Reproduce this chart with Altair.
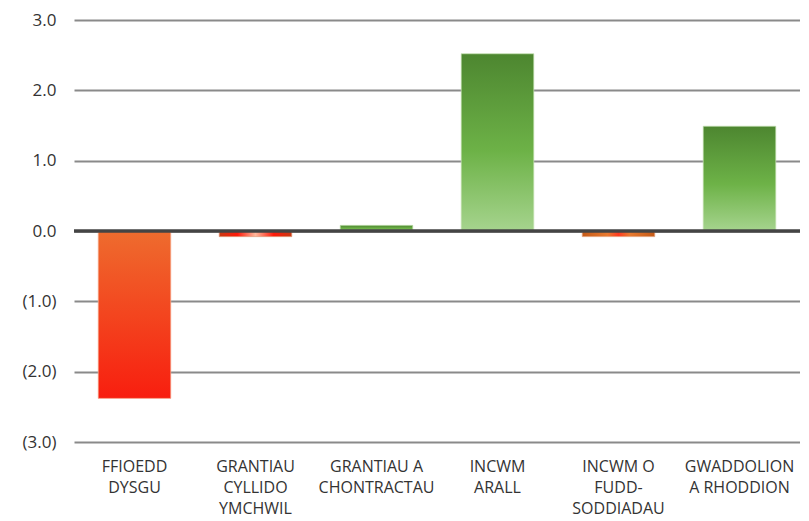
import altair as alt
import pandas as pd

categories = ["FFIOEDD DYSGU", "GRANTIAU CYLLIDO YMCHWIL", "GRANTIAU A CHONTRACTAU",
              "INCWM ARALL", "INCWM O FUDD-SODDIADAU", "GWADDOLION A RHODDION"]
label_lines = ["FFIOEDD|DYSGU", "GRANTIAU|CYLLIDO|YMCHWIL", "GRANTIAU A|CHONTRACTAU",
               "INCWM|ARALL", "INCWM O|FUDD-|SODDIADAU", "GWADDOLION|A RHODDION"]
values = [-2.38, -0.08, 0.08, 2.52, -0.08, 1.49]
styles = ["neg_big", "neg_red", "pos", "pos", "neg_orange", "pos"]
y_ticks = [-3, -2, -1, 0, 1, 2, 3]
zero_line = [0]

df = pd.DataFrame({"cat": label_lines, "value": values, "style": styles})

FONT = "Open Sans"
y_scale = alt.Scale(domain=[-3, 3], nice=False, zero=False)
y_axis = alt.Axis(values=y_ticks,
                  labelExpr="datum.value < 0 ? '(' + format(-datum.value, '.1f') + ')' : format(datum.value, '.1f')",
                  labelFont=FONT, labelFontSize=17, labelColor="#333333",
                  labelPadding=18, domain=False, ticks=False,
                  grid=True, gridColor="#8a8a8a", gridWidth=2)

x_enc = alt.X("cat:N", sort=label_lines, title=None,
              scale=alt.Scale(paddingInner=0.4, paddingOuter=0.2),
              axis=alt.Axis(labelExpr="split(datum.label, '|')", labelAngle=0,
                            labelFont=FONT, labelFontSize=16, labelColor="#333333",
                            labelLineHeight=21, labelPadding=16, domain=False,
                            ticks=False, grid=False, labelBaseline="top"))
y_enc = alt.Y("value:Q", title=None, scale=y_scale, axis=y_axis)

green_grad = alt.Gradient(gradient="linear", x1=0, y1=0, x2=0, y2=1,
                          stops=[alt.GradientStop(offset=0, color="#4d8630"),
                                 alt.GradientStop(offset=0.55, color="#6db247"),
                                 alt.GradientStop(offset=1, color="#a6d48e")])
red_grad = alt.Gradient(gradient="linear", x1=0, y1=0, x2=0, y2=1,
                        stops=[alt.GradientStop(offset=0, color="#ee6c2e"),
                               alt.GradientStop(offset=1, color="#f81e0f")])
red_small = alt.Gradient(gradient="linear", x1=0, y1=0, x2=1, y2=0,
                         stops=[alt.GradientStop(offset=0, color="#c83a14"),
                                alt.GradientStop(offset=0.25, color="#ff1a0a"),
                                alt.GradientStop(offset=0.5, color="#ffb89c"),
                                alt.GradientStop(offset=0.75, color="#ff1a0a"),
                                alt.GradientStop(offset=1, color="#c83a14")])
orange_small = alt.Gradient(gradient="linear", x1=0, y1=0, x2=1, y2=0,
                            stops=[alt.GradientStop(offset=0, color="#c45a18"),
                                   alt.GradientStop(offset=0.35, color="#e87a30"),
                                   alt.GradientStop(offset=0.5, color="#ff3a20"),
                                   alt.GradientStop(offset=0.65, color="#e87a30"),
                                   alt.GradientStop(offset=1, color="#c45a18")])

base = alt.Chart(df)

def bars(style, fill, stroke):
    return base.transform_filter(alt.datum.style == style).mark_bar(
        fill=fill, stroke=stroke, strokeWidth=1, strokeOpacity=0.7
    ).encode(x=x_enc, y=y_enc, y2=alt.datum(0))

layer_pos = bars("pos", green_grad, "#c6e3b4")
layer_negbig = bars("neg_big", red_grad, "#f7b49a")
layer_negred = bars("neg_red", red_small, "#e0a080")
layer_negor = bars("neg_orange", orange_small, "#e8b090")

zero = alt.Chart(pd.DataFrame({"value": zero_line})).mark_rule(
    color="#444444", strokeWidth=3.5
).encode(y=y_enc)

chart = alt.layer(layer_pos, layer_negbig, layer_negred, layer_negor, zero).properties(
    width=726, height=422,
    autosize=alt.AutoSizeParams(type="none"),
    padding={"left": 66, "top": 12, "right": 0, "bottom": 80},
    background="white",
).configure_view(stroke=None)

chart.save("out.html", embed_options={"renderer": "svg", "actions": False})
